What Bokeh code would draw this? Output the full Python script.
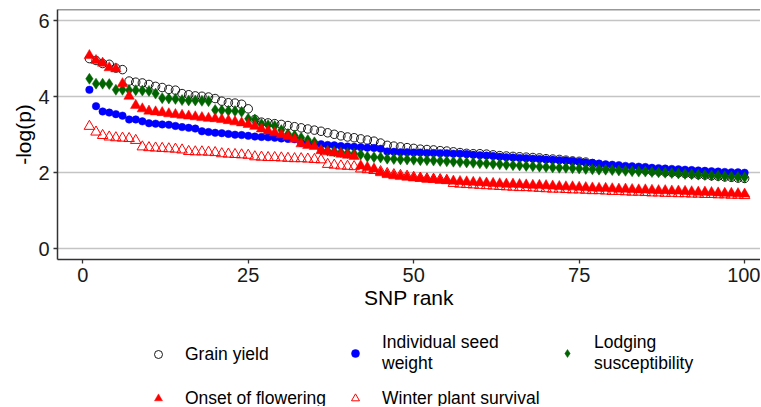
from bokeh.plotting import figure
from bokeh.layouts import column
from bokeh.models import (Legend, LegendItem, Range1d, FixedTicker, Span,
                          ColumnDataSource)
from bokeh.embed import file_html
from bokeh.resources import INLINE

# ---------------- data ----------------
rank = list(range(1, 101))

grain_yield = [5.00, 4.95, 4.87, 4.85, 4.75, 4.71, 4.41, 4.38, 4.36, 4.32,
               4.27, 4.24, 4.19, 4.17, 4.08, 4.05, 4.02, 4.01, 3.99, 3.95,
               3.88, 3.84, 3.83, 3.80, 3.68, 3.40, 3.33, 3.31, 3.29, 3.27,
               3.24, 3.21, 3.18, 3.15, 3.12, 3.09, 3.05, 3.01, 2.97, 2.94,
               2.92, 2.89, 2.86, 2.83, 2.78, 2.72, 2.70, 2.68, 2.66, 2.64,
               2.62, 2.61, 2.60, 2.58, 2.57, 2.55, 2.53, 2.51, 2.50, 2.50,
               2.49, 2.47, 2.45, 2.44, 2.43, 2.42, 2.41, 2.40, 2.39, 2.37,
               2.36, 2.35, 2.33, 2.31, 2.30, 2.28, 2.24, 2.21, 2.18, 2.16,
               2.14, 2.12, 2.10, 2.09, 2.07, 2.05, 2.04, 2.02, 2.01, 2.00,
               1.98, 1.97, 1.95, 1.94, 1.92, 1.91, 1.89, 1.88, 1.86, 1.85]

seed_weight = [4.18, 3.75, 3.61, 3.58, 3.54, 3.50, 3.40, 3.40, 3.35, 3.30,
               3.29, 3.27, 3.26, 3.23, 3.20, 3.18, 3.16, 3.09, 3.07, 3.05,
               3.04, 3.02, 3.00, 2.99, 2.97, 2.95, 2.94, 2.93, 2.92, 2.90,
               2.89, 2.88, 2.78, 2.77, 2.76, 2.75, 2.73, 2.72, 2.70, 2.69,
               2.68, 2.67, 2.66, 2.65, 2.63, 2.56, 2.55, 2.54, 2.54, 2.53,
               2.53, 2.52, 2.52, 2.51, 2.51, 2.50, 2.50, 2.49, 2.47, 2.46,
               2.45, 2.44, 2.42, 2.41, 2.40, 2.39, 2.38, 2.37, 2.36, 2.35,
               2.34, 2.33, 2.32, 2.31, 2.29, 2.27, 2.26, 2.24, 2.22, 2.21,
               2.20, 2.18, 2.17, 2.16, 2.15, 2.13, 2.12, 2.11, 2.10, 2.09,
               2.08, 2.07, 2.06, 2.05, 2.04, 2.03, 2.02, 2.01, 2.01, 2.00]

lodging = [4.47, 4.34, 4.34, 4.33, 4.18, 4.18, 4.17, 4.17, 4.16, 4.15,
           4.08, 3.96, 3.95, 3.94, 3.91, 3.90, 3.90, 3.89, 3.88, 3.65,
           3.64, 3.63, 3.62, 3.60, 3.42, 3.40, 3.28, 3.25, 3.23, 3.12,
           3.02, 2.98, 2.92, 2.86, 2.80, 2.60, 2.58, 2.56, 2.54, 2.52,
           2.50, 2.48, 2.42, 2.41, 2.40, 2.37, 2.36, 2.35, 2.35, 2.34,
           2.33, 2.33, 2.32, 2.31, 2.30, 2.29, 2.28, 2.27, 2.26, 2.25,
           2.24, 2.23, 2.22, 2.21, 2.20, 2.19, 2.18, 2.17, 2.16, 2.15,
           2.14, 2.13, 2.13, 2.12, 2.11, 2.10, 2.09, 2.08, 2.08, 2.07,
           2.06, 2.05, 2.04, 2.03, 2.03, 2.02, 2.01, 2.00, 1.99, 1.98,
           1.97, 1.96, 1.95, 1.94, 1.93, 1.92, 1.91, 1.90, 1.89, 1.88]

flowering = [5.08, 4.95, 4.88, 4.76, 4.73, 4.34, 4.01, 3.77, 3.68, 3.62,
             3.60, 3.58, 3.55, 3.53, 3.51, 3.49, 3.47, 3.45, 3.43, 3.42,
             3.40, 3.37, 3.34, 3.31, 3.27, 3.22, 3.15, 3.10, 3.05, 3.00,
             2.95, 2.88, 2.76, 2.72, 2.69, 2.58, 2.55, 2.52, 2.49, 2.46,
             2.43, 2.18, 2.14, 2.10, 2.00, 1.95, 1.92, 1.90, 1.88, 1.86,
             1.85, 1.83, 1.82, 1.80, 1.79, 1.78, 1.77, 1.76, 1.75, 1.74,
             1.73, 1.72, 1.71, 1.70, 1.70, 1.69, 1.68, 1.67, 1.67, 1.66,
             1.65, 1.64, 1.63, 1.63, 1.62, 1.61, 1.60, 1.59, 1.59, 1.58,
             1.57, 1.57, 1.56, 1.55, 1.55, 1.54, 1.53, 1.53, 1.52, 1.52,
             1.51, 1.50, 1.49, 1.49, 1.48, 1.47, 1.46, 1.46, 1.45, 1.44]

winter = [3.22, 3.07, 2.98, 2.94, 2.92, 2.91, 2.90, 2.85, 2.68, 2.66,
          2.65, 2.64, 2.63, 2.62, 2.60, 2.56, 2.55, 2.55, 2.54, 2.53,
          2.50, 2.49, 2.48, 2.47, 2.46, 2.42, 2.41, 2.40, 2.40, 2.39,
          2.38, 2.37, 2.37, 2.36, 2.35, 2.34, 2.22, 2.20, 2.18, 2.17,
          2.16, 2.10, 2.08, 2.06, 2.03, 1.98, 1.95, 1.93, 1.91, 1.88,
          1.86, 1.84, 1.83, 1.82, 1.80, 1.72, 1.70, 1.69, 1.68, 1.67,
          1.66, 1.65, 1.64, 1.63, 1.62, 1.61, 1.61, 1.60, 1.59, 1.58,
          1.57, 1.57, 1.56, 1.55, 1.55, 1.54, 1.53, 1.53, 1.52, 1.51,
          1.51, 1.50, 1.49, 1.49, 1.48, 1.47, 1.47, 1.46, 1.46, 1.45,
          1.45, 1.44, 1.44, 1.43, 1.43, 1.42, 1.42, 1.41, 1.41, 1.40]

x_ticks = [0, 25, 50, 75, 100]
y_ticks = [0, 2, 4, 6]

series_names = ["Grain yield", "Individual seed\nweight", "Lodging\nsusceptibility",
                "Onset of flowering", "Winter plant survival"]

FONT = "Liberation Sans"

styles = [
    dict(marker="circle", size=8.5, fill_color=None, line_color="black", line_width=0.9),
    dict(marker="circle", size=7.5, fill_color="#0000ff", line_color="#0000ff", line_width=0.5),
    dict(marker="diamond", size=11, fill_color="#006400", line_color="#006400", line_width=0.5),
    dict(marker="triangle", size=10.5, fill_color="#ff0000", line_color="#ff0000", line_width=0.5),
    dict(marker="triangle", size=10.5, fill_color=None, line_color="#ff0000", line_width=1.0),
]
value_cols = ["gy", "sw", "ls", "of", "ws"]

src = ColumnDataSource(dict(rank=rank, gy=grain_yield, sw=seed_weight,
                            ls=lodging, of=flowering, ws=winter))

# ---------------- main figure ----------------
p = figure(width=760, height=318, output_backend="svg", toolbar_location=None,
           x_range=Range1d(-3.82, 102.4), y_range=Range1d(-0.28, 6.29),
           min_border_left=57, min_border_right=0, min_border_top=9,
           min_border_bottom=59)
p.outline_line_color = None
p.background_fill_color = "white"

p.xgrid.grid_line_color = None
p.ygrid.grid_line_color = "#c4c4c4"
p.ygrid.grid_line_width = 1.3
p.xaxis.ticker = FixedTicker(ticks=x_ticks)
p.yaxis.ticker = FixedTicker(ticks=y_ticks)

for ax in (p.xaxis, p.yaxis):
    ax.axis_line_color = "#333333"
    ax.axis_line_width = 1.5
    ax.major_tick_line_color = "#333333"
    ax.major_tick_line_width = 1.3
    ax.major_tick_out = 4
    ax.major_tick_in = 0
    ax.minor_tick_line_color = None
    ax.major_label_text_font = FONT
    ax.major_label_text_font_size = "20px"
    ax.major_label_text_color = "#1a1a1a"
    ax.axis_label_text_font = FONT
    ax.axis_label_text_font_size = "21px"
    ax.axis_label_text_font_style = "normal"
    ax.axis_label_text_color = "black"

p.xaxis.axis_label = "SNP rank"
p.yaxis.axis_label = "-log(p)"
p.xaxis.major_label_standoff = 4
p.yaxis.major_label_standoff = 4
p.xaxis.axis_label_standoff = 1
p.yaxis.axis_label_standoff = 0

p.add_layout(Span(location=6.29, dimension="width", line_color="#333333",
                  line_width=1.5))

for col, st in zip(value_cols, styles):
    p.scatter("rank", col, source=src, **st)

# ---------------- legend strip (same series, ranges kept out of view) ----------------
lg = figure(width=760, height=88, output_backend="svg", toolbar_location=None,
            x_range=Range1d(-20, -10), y_range=Range1d(-20, -10),
            x_axis_type=None, y_axis_type=None,
            min_border_left=0, min_border_right=0, min_border_top=0,
            min_border_bottom=0)
lg.outline_line_color = None
lg.xgrid.visible = False
lg.ygrid.visible = False

leg_renderers = [lg.scatter("rank", col, source=src, **st)
                 for col, st in zip(value_cols, styles)]

columns = [[0, 3], [1, 4], [2]]
col_x = [91, 288, 500]
for idxs, vx in zip(columns, col_x):
    items = [LegendItem(label=series_names[i], renderers=[leg_renderers[i]]) for i in idxs]
    h = 40 * len(idxs) + 4 * (len(idxs) - 1)
    vy = 88 - 16 - h
    leg = Legend(items=items, location=(vx, vy), orientation="vertical",
                 padding=0, margin=0, spacing=4,
                 glyph_width=20, glyph_height=40, label_height=40,
                 label_standoff=17, border_line_color=None,
                 background_fill_alpha=0, label_text_font=FONT,
                 label_text_font_size="17.5px", label_text_line_height=1.0,
                 label_text_color="black")
    lg.add_layout(leg, "center")

open("out.html", "w").write(file_html(column(p, lg), INLINE))
